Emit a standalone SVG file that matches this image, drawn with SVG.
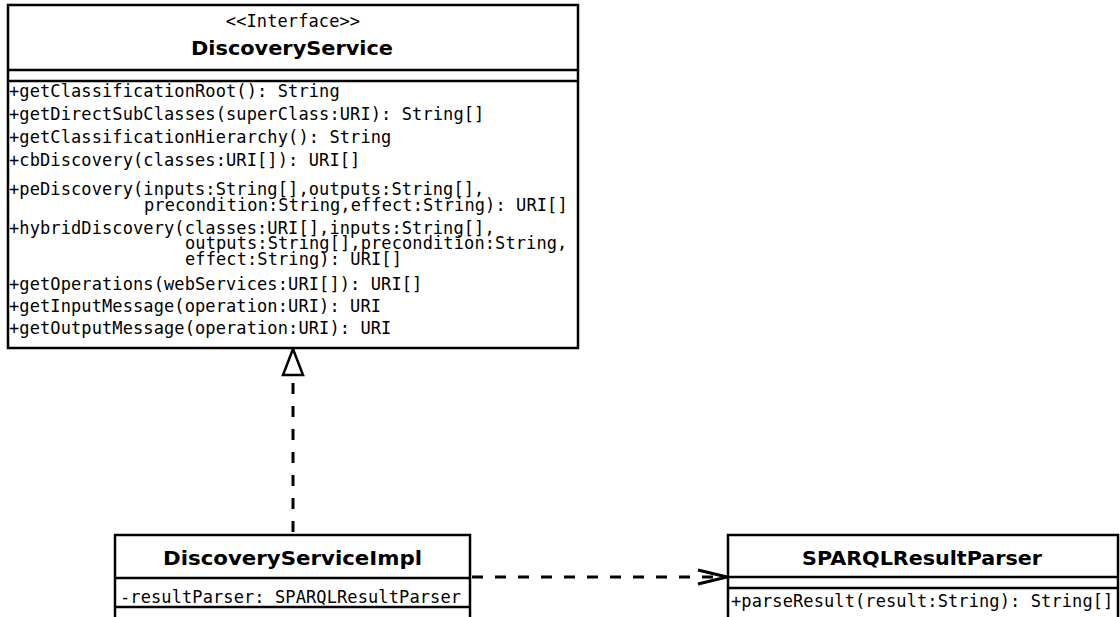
<svg xmlns="http://www.w3.org/2000/svg" width="1120" height="617" viewBox="0 0 1120 617">
  <style>
    .box { fill: #fff; stroke: #000; stroke-width: 2.5; }
    .sep { stroke: #000; stroke-width: 2.5; fill: none; }
    .mono { font-family: "DejaVu Sans Mono", "Liberation Mono", monospace; font-size: 17px; letter-spacing: 0.1px; fill: #000; }
    .title { font-family: "DejaVu Sans", "Liberation Sans", sans-serif; font-size: 19px; font-weight: bold; fill: #000; text-anchor: middle; }
    .dash { stroke: #000; stroke-width: 3; stroke-dasharray: 11 12; fill: none; }
  </style>

  <rect width="1120" height="617" fill="#fff"/>

  <!-- connectors -->
  <g id="connectors">
    <!-- realization: impl -> interface -->
    <line class="dash" x1="293" y1="532" x2="293" y2="377"/>
    <polygon points="293,349 283,375 303,375" fill="#fff" stroke="#000" stroke-width="2.5" stroke-linejoin="miter"/>
    <!-- dependency: impl -> parser -->
    <line class="dash" x1="472" y1="577" x2="724" y2="577"/>
    <polyline points="698,570 727,577 698,584" fill="none" stroke="#000" stroke-width="3"/>
  </g>

  <!-- interface DiscoveryService -->
  <g id="DiscoveryService">
    <rect class="box" x="8" y="5" width="570" height="343"/>
    <line class="sep" x1="8" y1="70" x2="578" y2="70"/>
    <line class="sep" x1="8" y1="81" x2="578" y2="81"/>
    <text class="mono" x="293" y="27" text-anchor="middle">&lt;&lt;Interface&gt;&gt;</text>
    <text class="title" x="292" y="55" textLength="202" lengthAdjust="spacingAndGlyphs">DiscoveryService</text>
    <text class="mono" x="9" y="97">+getClassificationRoot(): String</text>
    <text class="mono" x="9" y="120">+getDirectSubClasses(superClass:URI): String[]</text>
    <text class="mono" x="9" y="143">+getClassificationHierarchy(): String</text>
    <text class="mono" x="9" y="166">+cbDiscovery(classes:URI[]): URI[]</text>
    <text class="mono" x="9" y="195">+peDiscovery(inputs:String[],outputs:String[],</text>
    <text class="mono" x="144" y="211">precondition:String,effect:String): URI[]</text>
    <text class="mono" x="9" y="234">+hybridDiscovery(classes:URI[],inputs:String[],</text>
    <text class="mono" x="185" y="249">outputs:String[],precondition:String,</text>
    <text class="mono" x="185" y="265">effect:String): URI[]</text>
    <text class="mono" x="9" y="290">+getOperations(webServices:URI[]): URI[]</text>
    <text class="mono" x="9" y="312">+getInputMessage(operation:URI): URI</text>
    <text class="mono" x="9" y="334">+getOutputMessage(operation:URI): URI</text>
  </g>

  <!-- class DiscoveryServiceImpl -->
  <g id="DiscoveryServiceImpl">
    <rect class="box" x="115" y="535" width="355" height="100"/>
    <line class="sep" x1="115" y1="578" x2="470" y2="578"/>
    <line class="sep" x1="115" y1="607" x2="470" y2="607"/>
    <text class="title" x="292.5" y="565" textLength="259" lengthAdjust="spacingAndGlyphs">DiscoveryServiceImpl</text>
    <text class="mono" x="120" y="603">-resultParser: SPARQLResultParser</text>
  </g>

  <!-- class SPARQLResultParser -->
  <g id="SPARQLResultParser">
    <rect class="box" x="728" y="535" width="390" height="100"/>
    <line class="sep" x1="728" y1="577" x2="1118" y2="577"/>
    <line class="sep" x1="728" y1="588" x2="1118" y2="588"/>
    <text class="title" x="922" y="565" textLength="240" lengthAdjust="spacingAndGlyphs">SPARQLResultParser</text>
    <text class="mono" x="731" y="607">+parseResult(result:String): String[]</text>
  </g>
</svg>
